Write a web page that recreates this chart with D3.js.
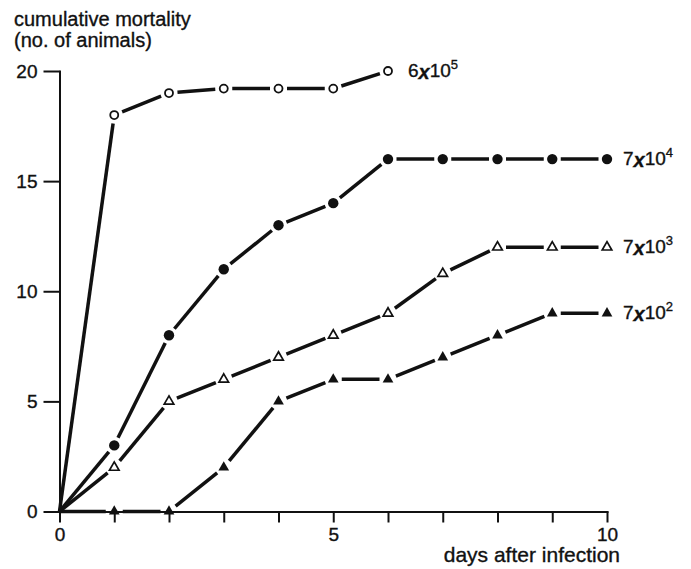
<!DOCTYPE html>
<html>
<head>
<meta charset="utf-8">
<script src="https://cdn.jsdelivr.net/npm/d3@7"></script>
<style>
  body { margin: 0; background: #fff; }
  svg { display: block; font-family: "Liberation Sans", Arial, sans-serif; }
  svg text { stroke: #111; stroke-width: 0.35px; }
  .axis path, .axis line { stroke: #111; stroke-width: 2; }
  .axis text { font-size: 19px; fill: #111; }
</style>
</head>
<body>
<svg id="chart" width="691" height="569"></svg>
<script>
const days = [0, 1, 2, 3, 4, 5, 6, 7, 8, 9, 10];
const dose6e5 = [0, 18, 19, 19.2, 19.2, 19.2, 20];
const dose7e4 = [0, 3, 8, 11, 13, 14, 16, 16, 16, 16, 16];
const dose7e3 = [0, 2, 5, 6, 7, 8, 9, 10.8, 12, 12, 12];
const dose7e2 = [0, 0, 0, 2, 5, 6, 6, 7, 8, 9, 9];
const seriesLabels = [
  { base: "6", exp: "5" },
  { base: "7", exp: "4" },
  { base: "7", exp: "3" },
  { base: "7", exp: "2" }
];
const yTicks = [0, 5, 10, 15, 20];
const xLabels = [0, 5, 10];

const svg = d3.select("#chart");

const x = d3.scaleLinear().domain([0, 10]).range([59.5, 607]);
const y = d3.scaleLinear().domain([0, 20]).range([511.5, 71]);

// axes
svg.append("g")
  .attr("class", "axis")
  .attr("transform", `translate(${x(0)},0)`)
  .call(d3.axisLeft(y).tickValues(yTicks).tickSize(16).tickSizeOuter(0).tickPadding(6));

svg.append("g")
  .attr("class", "axis")
  .attr("transform", `translate(0,${y(0)})`)
  .call(d3.axisBottom(x).tickValues(days).tickSize(11).tickSizeOuter(0).tickPadding(5)
    .tickFormat(d => xLabels.includes(d) ? d : ""));

svg.selectAll(".axis .domain").attr("stroke-linecap", "square");

// axis titles
const title = svg.append("text")
  .attr("x", 14)
  .attr("y", 26)
  .style("font-size", "20px")
  .attr("fill", "#111");
title.append("tspan").attr("x", 14).text("cumulative mortality");
title.append("tspan").attr("x", 14).attr("dy", 21).text("(no. of animals)");

svg.append("text")
  .attr("x", 620)
  .attr("y", 562)
  .attr("text-anchor", "end")
  .style("font-size", "21px")
  .attr("fill", "#111")
  .text("days after infection");

// series
const series = [
  { values: dose6e5, marker: "circle", filled: false },
  { values: dose7e4, marker: "circle", filled: true },
  { values: dose7e3, marker: "triangle", filled: false },
  { values: dose7e2, marker: "triangle", filled: true }
];

const gap = 8.5;
const lines = svg.append("g");
const marks = svg.append("g");

series.forEach((s, si) => {
  const pts = s.values.map((v, i) => ({ d: days[i], v }));

  // line segments broken just short of each marker
  for (let i = 1; i < pts.length; i++) {
    const x0 = x(pts[i - 1].d), y0 = y(pts[i - 1].v);
    const x1 = x(pts[i].d), y1 = y(pts[i].v);
    const len = Math.hypot(x1 - x0, y1 - y0);
    const ux = (x1 - x0) / len, uy = (y1 - y0) / len;
    const g0 = i - 1 === 0 ? 0 : gap;
    lines.append("line")
      .attr("x1", x0 + ux * g0)
      .attr("y1", y0 + uy * g0)
      .attr("x2", x1 - ux * gap)
      .attr("y2", y1 - uy * gap)
      .attr("stroke", "#111")
      .attr("stroke-width", 3.5)
      .attr("stroke-linecap", "butt");
  }

  const withMarkers = pts.slice(1);
  if (s.marker === "circle") {
    marks.selectAll(null)
      .data(withMarkers)
      .enter()
      .append("circle")
      .attr("cx", d => x(d.d))
      .attr("cy", d => y(d.v))
      .attr("r", s.filled ? 5.2 : 4)
      .attr("fill", s.filled ? "#111" : "#fff")
      .attr("stroke", "#111")
      .attr("stroke-width", s.filled ? 0 : 1.8);
  } else {
    const sym = d3.symbol().type(d3.symbolTriangle).size(s.filled ? 50 : 40);
    marks.selectAll(null)
      .data(withMarkers)
      .enter()
      .append("path")
      .attr("d", sym)
      .attr("transform", d => `translate(${x(d.d)},${y(d.v)})`)
      .attr("fill", s.filled ? "#111" : "#fff")
      .attr("stroke", "#111")
      .attr("stroke-width", s.filled ? 0 : 1.7)
      .attr("stroke-linejoin", "miter");
  }

  // series label at end of line
  const last = pts[pts.length - 1];
  const lab = seriesLabels[si];
  const t = svg.append("text")
    .attr("x", x(last.d) + (si === 0 ? 20 : 16))
    .attr("y", y(last.v) + 6)
    .style("font-size", "19px")
    .attr("fill", "#111");
  t.append("tspan").text(lab.base);
  t.append("tspan")
    .attr("dy", 2)
    .style("font-weight", "bold")
    .style("font-style", "italic")
    .style("font-size", "20px")
    .text("x");
  t.append("tspan").attr("dy", -2).text("10");
  t.append("tspan").attr("dy", -8).style("font-size", "13px").text(lab.exp);
});
</script>
</body>
</html>
